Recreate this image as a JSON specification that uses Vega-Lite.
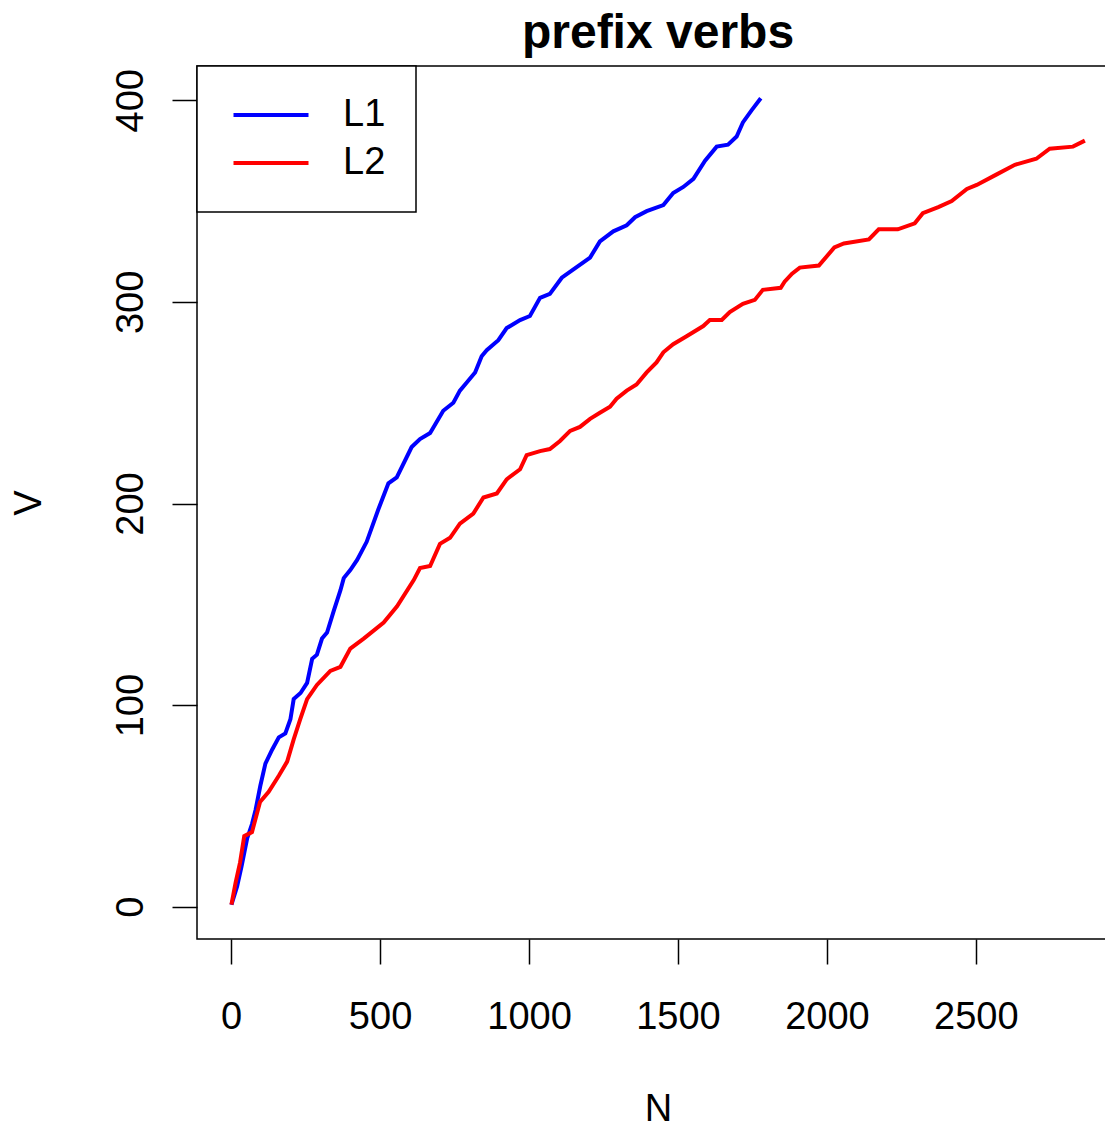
{
  "$schema": "https://vega.github.io/schema/vega-lite/v6.json",
  "autosize": {"type": "none"},
  "padding": {"left": 197, "top": 66, "right": -14, "bottom": 188},
  "width": 922,
  "height": 873,
  "background": "white",
  "title": {"text": "prefix verbs", "fontSize": 48, "fontWeight": "bold", "font": "Liberation Sans", "anchor": "middle", "baseline": "alphabetic", "offset": -31, "color": "black"},
  "config": {
    "font": "Liberation Sans",
    "view": {"stroke": "black", "strokeWidth": 1.5},
    "axis": {"grid": false, "domain": false, "tickColor": "black", "tickWidth": 1.5, "tickSize": 25, "labelFontSize": 38, "labelColor": "black", "titleFontSize": 38, "titleFontWeight": "normal", "titleColor": "black", "labelFont": "Liberation Sans", "titleFont": "Liberation Sans", "labelOverlap": false, "labelFlush": false}
  },
  "data": {"values": [
    {"series":"L1","N":1,"V":1},{"series":"L1","N":20,"V":10},{"series":"L1","N":35,"V":20},{"series":"L1","N":54,"V":34},{"series":"L1","N":70,"V":41},{"series":"L1","N":82,"V":48},{"series":"L1","N":98,"V":60},{"series":"L1","N":115,"V":71},{"series":"L1","N":138,"V":78},{"series":"L1","N":160,"V":84},{"series":"L1","N":182,"V":86},{"series":"L1","N":199,"V":93},{"series":"L1","N":210,"V":103},{"series":"L1","N":233,"V":106},{"series":"L1","N":255,"V":111},{"series":"L1","N":272,"V":123},{"series":"L1","N":288,"V":125},{"series":"L1","N":305,"V":133},{"series":"L1","N":322,"V":136},{"series":"L1","N":345,"V":147},{"series":"L1","N":367,"V":157},{"series":"L1","N":378,"V":163},{"series":"L1","N":400,"V":167},{"series":"L1","N":423,"V":172},{"series":"L1","N":455,"V":181},{"series":"L1","N":494,"V":197},{"series":"L1","N":528,"V":210},{"series":"L1","N":556,"V":213},{"series":"L1","N":606,"V":228},{"series":"L1","N":634,"V":232},{"series":"L1","N":668,"V":235},{"series":"L1","N":712,"V":246},{"series":"L1","N":746,"V":250},{"series":"L1","N":768,"V":256},{"series":"L1","N":791,"V":260},{"series":"L1","N":819,"V":265},{"series":"L1","N":841,"V":273},{"series":"L1","N":858,"V":276},{"series":"L1","N":897,"V":281},{"series":"L1","N":925,"V":287},{"series":"L1","N":970,"V":291},{"series":"L1","N":1003,"V":293},{"series":"L1","N":1037,"V":302},{"series":"L1","N":1070,"V":304},{"series":"L1","N":1110,"V":312},{"series":"L1","N":1148,"V":316},{"series":"L1","N":1205,"V":322},{"series":"L1","N":1238,"V":330},{"series":"L1","N":1283,"V":335},{"series":"L1","N":1328,"V":338},{"series":"L1","N":1356,"V":342},{"series":"L1","N":1395,"V":345},{"series":"L1","N":1451,"V":348},{"series":"L1","N":1484,"V":354},{"series":"L1","N":1518,"V":357},{"series":"L1","N":1552,"V":361},{"series":"L1","N":1591,"V":370},{"series":"L1","N":1630,"V":377},{"series":"L1","N":1668,"V":378},{"series":"L1","N":1697,"V":382},{"series":"L1","N":1718,"V":389},{"series":"L1","N":1747,"V":395},{"series":"L1","N":1778,"V":401},
    {"series":"L2","N":1,"V":1},{"series":"L2","N":15,"V":12},{"series":"L2","N":30,"V":22},{"series":"L2","N":44,"V":35},{"series":"L2","N":70,"V":37},{"series":"L2","N":97,"V":52},{"series":"L2","N":126,"V":57},{"series":"L2","N":160,"V":65},{"series":"L2","N":188,"V":72},{"series":"L2","N":210,"V":83},{"series":"L2","N":232,"V":93},{"series":"L2","N":255,"V":103},{"series":"L2","N":288,"V":110},{"series":"L2","N":333,"V":117},{"series":"L2","N":367,"V":119},{"series":"L2","N":400,"V":128},{"series":"L2","N":445,"V":133},{"series":"L2","N":512,"V":141},{"series":"L2","N":557,"V":149},{"series":"L2","N":613,"V":162},{"series":"L2","N":634,"V":168},{"series":"L2","N":668,"V":169},{"series":"L2","N":701,"V":180},{"series":"L2","N":735,"V":183},{"series":"L2","N":768,"V":190},{"series":"L2","N":813,"V":195},{"series":"L2","N":847,"V":203},{"series":"L2","N":892,"V":205},{"series":"L2","N":925,"V":212},{"series":"L2","N":970,"V":217},{"series":"L2","N":992,"V":224},{"series":"L2","N":1037,"V":226},{"series":"L2","N":1070,"V":227},{"series":"L2","N":1104,"V":231},{"series":"L2","N":1138,"V":236},{"series":"L2","N":1171,"V":238},{"series":"L2","N":1205,"V":242},{"series":"L2","N":1238,"V":245},{"series":"L2","N":1272,"V":248},{"series":"L2","N":1294,"V":252},{"series":"L2","N":1328,"V":256},{"series":"L2","N":1361,"V":259},{"series":"L2","N":1395,"V":265},{"series":"L2","N":1428,"V":270},{"series":"L2","N":1451,"V":275},{"series":"L2","N":1484,"V":279},{"series":"L2","N":1529,"V":283},{"series":"L2","N":1585,"V":288},{"series":"L2","N":1607,"V":291},{"series":"L2","N":1647,"V":291},{"series":"L2","N":1674,"V":295},{"series":"L2","N":1718,"V":299},{"series":"L2","N":1758,"V":301},{"series":"L2","N":1785,"V":306},{"series":"L2","N":1845,"V":307},{"series":"L2","N":1858,"V":310},{"series":"L2","N":1883,"V":314},{"series":"L2","N":1909,"V":317},{"series":"L2","N":1973,"V":318},{"series":"L2","N":2025,"V":327},{"series":"L2","N":2057,"V":329},{"series":"L2","N":2141,"V":331},{"series":"L2","N":2174,"V":336},{"series":"L2","N":2238,"V":336},{"series":"L2","N":2295,"V":339},{"series":"L2","N":2322,"V":344},{"series":"L2","N":2374,"V":347},{"series":"L2","N":2419,"V":350},{"series":"L2","N":2470,"V":356},{"series":"L2","N":2503,"V":358},{"series":"L2","N":2567,"V":363},{"series":"L2","N":2631,"V":368},{"series":"L2","N":2703,"V":371},{"series":"L2","N":2748,"V":376},{"series":"L2","N":2826,"V":377},{"series":"L2","N":2866,"V":380}
  ]},
  "mark": {"type": "line", "strokeWidth": 4, "clip": true},
  "encoding": {
    "x": {"field": "N", "type": "quantitative", "scale": {"domain": [-114.6, 2980.6], "nice": false, "zero": false},
      "axis": {"values": [0, 500, 1000, 1500, 2000, 2500], "format": "d", "labelPadding": 34, "title": "N", "titleY": 181, "titleBaseline": "alphabetic", "titleAnchor": "middle"}},
    "y": {"field": "V", "type": "quantitative", "scale": {"domain": [-16, 417], "nice": false, "zero": false},
      "axis": {"values": [0, 100, 200, 300, 400], "format": "d", "labelAngle": -90, "labelAlign": "center", "labelBaseline": "alphabetic", "labelPadding": 30, "title": "V", "titleAngle": -90, "titleX": -157, "titleBaseline": "alphabetic", "titleAlign": "center"}},
    "color": {"field": "series", "type": "nominal", "scale": {"domain": ["L1", "L2"], "range": ["#0000ff", "#ff0000"]},
      "legend": {"title": null, "orient": "top-left", "offset": 0, "padding": 30, "strokeColor": "black", "fillColor": "white",
        "symbolType": "M-2,0H2", "symbolSize": 1406, "symbolStrokeWidth": 4, "symbolOffset": 23, "labelOffset": 51, "labelFontSize": 38, "labelColor": "black", "labelFont": "Liberation Sans", "clipHeight": 38, "rowPadding": 10, "cornerRadius": 0,
        "encode": {"legend": {"update": {"strokeWidth": {"value": 1.5}}}}}}
  }
}
